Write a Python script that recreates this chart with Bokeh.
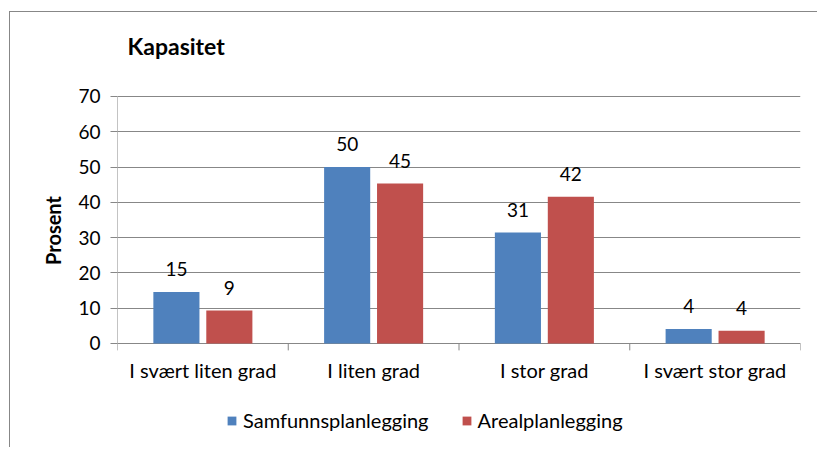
import math
from bokeh.plotting import figure
from bokeh.models import Range1d, FixedTicker, Legend, LegendItem, ColumnDataSource, Label
from bokeh.core.properties import value
from bokeh.embed import file_html
from bokeh.resources import INLINE

categories = ["I svært liten grad", "I liten grad", "I stor grad", "I svært stor grad"]
samfunn = [14.6, 50.0, 31.4, 4.1]
areal = [9.3, 45.3, 41.6, 3.6]
samfunn_labels = ["15", "50", "31", "4"]
areal_labels = ["9", "45", "42", "4"]
series_names = ["Samfunnsplanlegging", "Arealplanlegging"]
y_ticks = [0, 10, 20, 30, 40, 50, 60, 70]

FONT = "Lato"
BLUE = "#4F81BD"
RED = "#C0504D"
GRAY = "#878787"

n = len(categories)
X0, X1 = 0, n
# frame covers the whole chart area; value axis runs 0..70 inside it
Y0, Y1 = -29.8, 93.8

p = figure(width=808, height=436, output_backend="svg", toolbar_location=None,
           x_range=Range1d(X0, X1), y_range=Range1d(Y0, Y1), x_axis_location=None,
           min_border_left=107, min_border_right=18, min_border_top=0, min_border_bottom=0,
           styles={"border-left": "1px solid " + GRAY, "border-top": "1px solid " + GRAY},
           margin=(11, 0, 0, 9))
p.outline_line_color = None

p.add_layout(Label(x=X0, y=Y1, x_offset=10, y_offset=-33, text="Kapasitet",
                   text_font=FONT, text_font_size="23px", text_font_style="bold",
                   text_color="#000000", text_baseline="middle", text_align="left"))

centers = [i + 0.5 for i in range(n)]
off = 0.155
w = 0.27
src = ColumnDataSource(dict(
    xs=[c - off for c in centers], xa=[c + off for c in centers],
    s=samfunn, a=areal, sl=samfunn_labels, al=areal_labels))

r1 = p.vbar(x="xs", top="s", width=w, source=src, fill_color=BLUE, line_color=None)
r2 = p.vbar(x="xa", top="a", width=w, source=src, fill_color=RED, line_color=None)

p.text(x="xs", y="s", text="sl", source=src, text_align="center", text_baseline="middle",
       y_offset=-23, text_font=value(FONT), text_font_size="19px", text_color="#000000")
p.text(x="xa", y="a", text="al", source=src, text_align="center", text_baseline="middle",
       y_offset=-23, text_font=value(FONT), text_font_size="19px", text_color="#000000")

# category axis (labels + boundary ticks)
cat_src = ColumnDataSource(dict(x=centers, y=[y_ticks[0]] * n, t=categories))
p.text(x="x", y="y", text="t", source=cat_src, text_align="center", text_baseline="middle",
       y_offset=27, text_font=value(FONT), text_font_size="20px", text_color="#000000")
bounds = list(range(n + 1))
p.ray(x=bounds, y=[y_ticks[0]] * len(bounds), length=7, length_units="screen",
      angle=-math.pi / 2, line_color=GRAY, line_width=1)
# value axis line
p.segment(x0=[X0], y0=[y_ticks[0]], x1=[X0], y1=[y_ticks[-1]], line_color=GRAY, line_width=1)

# y axis
p.yaxis.ticker = FixedTicker(ticks=y_ticks)
p.yaxis.minor_tick_line_color = None
p.yaxis.major_tick_out = 7
p.yaxis.major_tick_in = 0
p.yaxis.major_tick_line_color = GRAY
p.yaxis.axis_line_color = None
p.yaxis.major_label_standoff = 10
p.yaxis.major_label_text_font = FONT
p.yaxis.major_label_text_font_size = "19px"
p.yaxis.major_label_text_color = "#000000"
p.yaxis.axis_label = "Prosent"
p.yaxis.axis_label_text_font = FONT
p.yaxis.axis_label_text_font_size = "20px"
p.yaxis.axis_label_text_font_style = "bold"
p.yaxis.axis_label_standoff = 10
p.yaxis.axis_label_text_color = "#000000"

p.xgrid.grid_line_color = None
p.ygrid.ticker = FixedTicker(ticks=y_ticks)
p.ygrid.grid_line_color = GRAY
p.ygrid.grid_line_width = 1

legend = Legend(items=[LegendItem(label=series_names[0], renderers=[r1]),
                       LegendItem(label=series_names[1], renderers=[r2])],
                orientation="horizontal", location=(109, 16))
legend.border_line_color = None
legend.background_fill_alpha = 0
legend.padding = 0
legend.margin = 0
legend.spacing = 32
legend.glyph_width = 11
legend.glyph_height = 11
legend.label_standoff = 6
legend.label_text_font = FONT
legend.label_text_font_size = "20px"
legend.label_text_color = "#000000"
p.add_layout(legend, "center")

open("out.html", "w").write(file_html(p, INLINE))
